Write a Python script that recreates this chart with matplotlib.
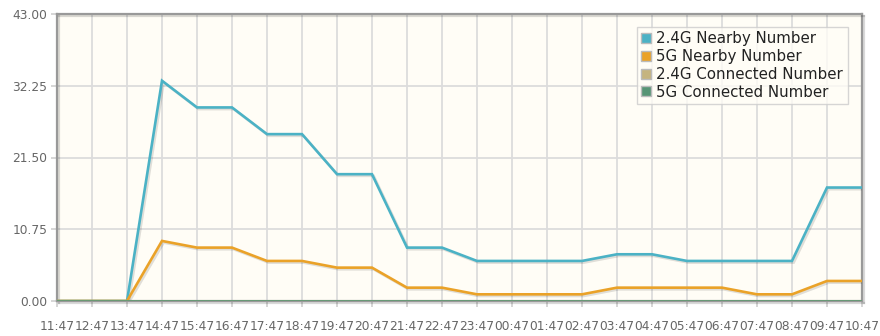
import matplotlib.pyplot as plt
import matplotlib.patheffects as pe
from matplotlib.patches import Rectangle
import numpy as np

hours = ['11:47', '12:47', '13:47', '14:47', '15:47', '16:47', '17:47', '18:47',
         '19:47', '20:47', '21:47', '22:47', '23:47', '00:47', '01:47', '02:47',
         '03:47', '04:47', '05:47', '06:47', '07:47', '08:47', '09:47', '10:47']
nearby_24g = [0, 0, 0, 33, 29, 29, 25, 25, 19, 19, 8, 8,
              6, 6, 6, 6, 7, 7, 6, 6, 6, 6, 17, 17]
nearby_5g = [0, 0, 0, 9, 8, 8, 6, 6, 5, 5, 2, 2,
             1, 1, 1, 1, 2, 2, 2, 2, 1, 1, 3, 3]
connected_24g = [0] * 24
connected_5g = [0] * 24

y_ticks = [0, 10.75, 21.5, 32.25, 43]

series = [
    ('2.4G Nearby Number', nearby_24g, '#4bb2c5'),
    ('5G Nearby Number', nearby_5g, '#eaa228'),
    ('2.4G Connected Number', connected_24g, '#c5b47f'),
    ('5G Connected Number', connected_5g, '#579575'),
]

fig = plt.figure(figsize=(8.8, 3.36), dpi=100)
ax = fig.add_axes([57 / 880, 35 / 336, 805 / 880, 287 / 336])
ax.set_facecolor('#fffdf6')

x = np.arange(len(hours))
shadow = [pe.SimpleLineShadow(offset=(1.2, -1.2), alpha=0.12, shadow_color='black'),
          pe.Normal()]
for name, vals, color in series:
    ax.plot(x, vals, color=color, lw=1.9, label=name, path_effects=shadow,
            solid_joinstyle='miter', zorder=3)

ax.set_xlim(0, len(hours) - 1)
ax.set_ylim(0, 43)
ax.set_xticks(x)
ax.set_xticklabels(hours)
ax.set_yticks(y_ticks)
ax.set_yticklabels(['%.2f' % v for v in y_ticks])
ax.grid(True, color='#dcdcdc', lw=1.3, zorder=0)
ax.set_axisbelow(True)
ax.tick_params(colors='#d0d0d0', labelcolor='#666666', labelsize=8.8,
               length=4, width=1.2, pad=3)
ax.tick_params(axis='x', pad=10)

for side in ax.spines.values():
    side.set_color('#999999')
    side.set_linewidth(1.6)
    side.set_path_effects([pe.SimpleLineShadow(offset=(1.5, -1.5), alpha=0.15),
                           pe.Normal()])

# square swatches with a thin grey border, like the legend boxes
handles = [Rectangle((0, 0), 1, 1, facecolor=c, edgecolor='#bbbbbb', lw=1)
           for _, _, c in series]
leg = ax.legend(handles, [s[0] for s in series], loc='upper right',
                bbox_to_anchor=(0.982, 0.955), fontsize=10.8, frameon=True,
                fancybox=False, handlelength=0.65, handleheight=0.65,
                handletextpad=0.35, borderpad=0.3, labelspacing=0.18,
                borderaxespad=0)
leg.get_frame().set_edgecolor('#cccccc')
leg.get_frame().set_facecolor('#fffdf6')
leg.get_frame().set_linewidth(1)
for t in leg.get_texts():
    t.set_color('#222222')

fig.savefig('out.png', dpi=100)
